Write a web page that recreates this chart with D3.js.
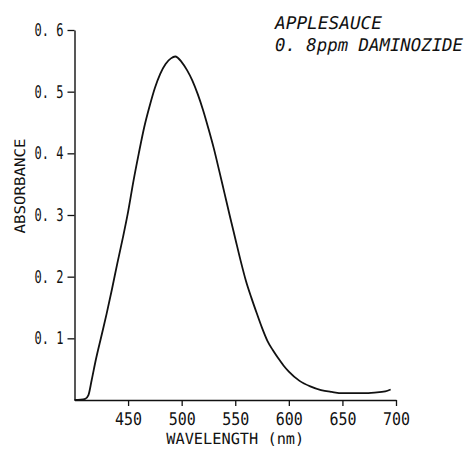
<!DOCTYPE html>
<html>
<head>
<meta charset="utf-8">
<script src="https://cdn.jsdelivr.net/npm/d3@7"></script>
<style>
  html, body { margin: 0; padding: 0; background: #fff; }
  svg { display: block; }
  text { font-family: "DejaVu Sans Mono", "Liberation Mono", monospace; fill: #111; text-rendering: geometricPrecision; }
</style>
</head>
<body>
<svg id="chart" width="469" height="449"></svg>
<script>
// Data
const wavelength = [400, 410, 413, 416, 420, 425, 430, 435, 440, 445, 450, 455, 460, 465, 470, 475, 480, 485, 490, 494, 500, 505, 510, 515, 520, 525, 530, 535, 540, 545, 550, 555, 560, 565, 570, 575, 580, 585, 590, 595, 600, 610, 620, 630, 640, 650, 660, 670, 680, 690, 695];
const absorbance = [0, 0.002, 0.008, 0.032, 0.066, 0.103, 0.140, 0.180, 0.222, 0.262, 0.305, 0.355, 0.400, 0.442, 0.476, 0.506, 0.529, 0.545, 0.554, 0.557, 0.548, 0.535, 0.518, 0.496, 0.470, 0.440, 0.408, 0.372, 0.335, 0.298, 0.262, 0.226, 0.193, 0.166, 0.141, 0.117, 0.096, 0.081, 0.068, 0.056, 0.046, 0.031, 0.022, 0.016, 0.013, 0.011, 0.011, 0.011, 0.012, 0.014, 0.017];
const xTicks = [450, 500, 550, 600, 650, 700];
const xTickLabels = ["450", "500", "550", "600", "650", "700"];
const yTicks = [0.1, 0.2, 0.3, 0.4, 0.5, 0.6];
const yTickLabels = ["0. 1", "0. 2", "0. 3", "0. 4", "0. 5", "0. 6"];
const titleLines = ["APPLESAUCE", "0. 8ppm DAMINOZIDE"];
const xTitle = "WAVELENGTH (nm)";
const yTitle = "ABSORBANCE";

const svg = d3.select("#chart");
const x = d3.scaleLinear().domain([400, 700]).range([74.5, 396]);
const y = d3.scaleLinear().domain([0, 0.6]).range([400, 30]);

// X axis
const gx = svg.append("g").attr("transform", `translate(0,${y(0)})`)
  .call(d3.axisBottom(x).tickValues(xTicks).tickFormat((d, i) => xTickLabels[i]).tickSize(6).tickSizeOuter(0).tickPadding(6));
gx.select(".domain").attr("stroke", "#111").attr("stroke-width", 1.4);
gx.selectAll(".tick line").attr("stroke", "#111").attr("stroke-width", 1.3);
gx.selectAll(".tick text").attr("font-size", 17.5).attr("fill", "#111")
  .attr("textLength", 27).attr("lengthAdjust", "spacingAndGlyphs").attr("dy", "0.72em");

// Y axis
const gy = svg.append("g").attr("transform", `translate(${x(400)},0)`)
  .call(d3.axisLeft(y).tickValues(yTicks).tickFormat((d, i) => yTickLabels[i]).tickSize(7).tickSizeOuter(0).tickPadding(4));
gy.select(".domain").attr("stroke", "#111").attr("stroke-width", 1.4);
gy.selectAll(".tick line").attr("stroke", "#111").attr("stroke-width", 1.3);
gy.selectAll(".tick text").attr("font-size", 17.5).attr("fill", "#111")
  .attr("textLength", 29).attr("lengthAdjust", "spacingAndGlyphs");

// Curve
const data = wavelength.map((w, i) => ({w, a: absorbance[i]}));
svg.append("path").datum(data)
  .attr("fill", "none").attr("stroke", "#111").attr("stroke-width", 1.8)
  .attr("d", d3.line().x(d => x(d.w)).y(d => y(d.a)).curve(d3.curveMonotoneX));

// Axis titles
svg.append("text").attr("x", (x(400) + x(700)) / 2).attr("y", 444)
  .attr("text-anchor", "middle").attr("font-size", 15.5)
  .attr("textLength", 138).attr("lengthAdjust", "spacingAndGlyphs").text(xTitle);
svg.append("text").attr("transform", "translate(25,186) rotate(-90)")
  .attr("text-anchor", "middle").attr("font-size", 14.5)
  .attr("textLength", 95).attr("lengthAdjust", "spacingAndGlyphs").text(yTitle);

// Annotation
const titleWidths = [107, 188];
titleLines.forEach((t, i) => {
  svg.append("text").attr("x", 275).attr("y", 29 + i * 22)
    .attr("font-size", 17.5).attr("font-style", "italic")
    .attr("textLength", titleWidths[i]).attr("lengthAdjust", "spacingAndGlyphs").text(t);
});
</script>
</body>
</html>
